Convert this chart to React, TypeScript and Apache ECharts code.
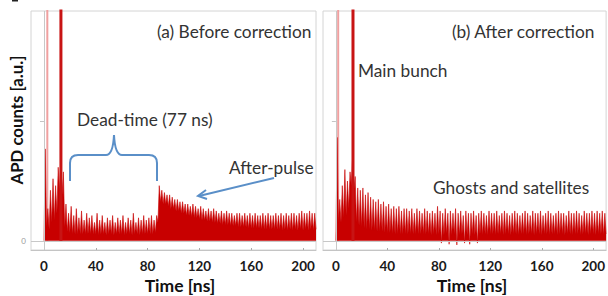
import React, { useEffect, useRef } from 'react';
import * as echarts from 'echarts';

// ---- data (ns / arbitrary units) ----
const BUNCH_SPACING = 2; // ns between successive samples (valley, peak alternating by half spacing)

// Panel (a) – before correction: peak heights at t = 1, 3, 5, ... 209 ns
const peaksA = [
  40, 14, 22, 27, 24, 32, 34, 30, 16, 12,
  15, 11, 14, 10, 13, 9, 12, 10, 11, 8,
  12, 9, 11, 8, 10, 9, 11, 8, 10, 9,
  11, 8, 10, 9, 12, 8, 10, 9, 11, 9,
  10, 11, 9, 11, 24, 22, 21, 20, 20, 19,
  18, 18, 17, 17, 16, 16, 15, 16, 15, 14,
  15, 14, 13, 14, 13, 14, 13, 12, 13, 12,
  13, 12, 12, 11, 12, 12, 11, 12, 11, 12,
  11, 12, 11, 11, 12, 11, 12, 11, 11, 12,
  11, 12, 11, 12, 11, 12, 12, 11, 12, 13,
  12, 12, 13, 12, 12,
];
// Panel (a) – valley (base) level at t = 0, 2, 4, ... 210 ns
const valleysA = [
  0, 6, 5, 8, 9, 12, 22, 20, 6, 4,
  3.5, 3, 3, 3, 3, 3, 3, 3, 3, 3,
  3, 2.5, 3, 3, 2.5, 3, 3, 2.5, 3, 3,
  3, 2.5, 3, 3, 2.5, 3, 3, 2.5, 3, 3,
  3, 3, 3, 3.5, 8, 17, 16, 16, 15, 14,
  14, 13, 13, 12, 12, 11, 11, 10.5, 10, 10,
  9.5, 9, 9, 8.5, 8.5, 8, 8, 7.5, 7.5, 7,
  7, 7, 6.5, 6.5, 6.5, 6, 6, 6, 6, 5.5,
  5.5, 5.5, 5.5, 5.5, 5, 5, 5, 5, 5, 5,
  5, 5, 4.5, 5, 4.5, 5, 4.5, 5, 4.5, 5,
  4.5, 5, 4.5, 5, 4.5, 5,
];

// Panel (b) – after correction
const peaksB = [
  45, 18, 24, 31, 26, 30, 36, 28, 23, 22,
  23, 20, 21, 19, 18, 17, 18, 16, 17, 15,
  16, 14, 15, 14, 15, 13, 14, 14, 13, 14,
  12, 14, 13, 12, 14, 13, 12, 13, 12, 15,
  13, 12, 14, 12, 13, 12, 14, 12, 13, 11,
  13, 12, 12, 13, 11, 12, 13, 12, 11, 13,
  12, 12, 13, 11, 12, 13, 12, 11, 12, 13,
  12, 11, 12, 13, 12, 11, 13, 12, 12, 13,
  11, 12, 13, 12, 11, 12, 13, 12, 12, 11,
  13, 12, 12, 13, 12, 11, 13, 12, 12, 13,
  12, 13, 12, 13, 12,
];
const valleysB = [
  0, 8, 8, 10, 11, 14, 24, 22, 8, 6.5,
  6, 5.5, 5, 5, 4.5, 4.5, 4, 4, 4, 3.5,
  3.5, 3.5, 3, 3, 3, 3, 3, 3, 3, 3,
  3, 3, 3, 3, 3, 3, 3, 2.5, 3, 2.5,
  3, -1, 2.5, 3, -1.5, 2.5, 3, -1.8, 2.5, 3,
  -1, 2.5, -1.5, 3, 2.5, -1, 3, 2.5, 3, 2.5,
  3, 3, 2.5, 3, 3, 2.5, 3, 3, 2.5, 3,
  3, 2.5, 3, 3, 2.5, 3, 3, 2.5, 3, 3,
  2.5, 3, 3, 2.5, 3, 3, 2.5, 3, 3, 2.5,
  3, 3, 2.5, 3, 3, 2.5, 3, 3, 2.5, 3,
  3, 2.5, 3, 3, 2.5, 3,
];

const mainBunchTimeA = 13.1;
const mainBunchTimeB = 13.3;
const ghostTimeA = 2.6;
const ghostTimeB = 1.8;
const offScaleHeight = 500;

const xTickValues = [0, 40, 80, 120, 160, 200];
const yTickValues = [0, 52];
const yLabelValues = [0];

function spikeSeries(valleys: number[], peaks: number[]) {
  const pts: number[][] = [];
  valleys.forEach((v, i) => {
    pts.push([i * BUNCH_SPACING, v]);
    if (i < peaks.length) pts.push([i * BUNCH_SPACING + BUNCH_SPACING / 2, peaks[i]]);
  });
  return pts;
}

const FONT = 'Lato';
const RED = '#c80000';
const BLUE = '#5a8fc8';
const TEXT = '#333333';

echarts.graphic.registerShape(
  'brace',
  echarts.graphic.extendPath(
    'M70,181 L70,163 Q70,155 78,155 L106,155 Q113,155 114,135 Q115,155 122,155 L149,155 Q157,155 157,163 L157,181',
    {}
  )
);

function makeXAxis(i: number) {
  return {
    type: 'value',
    gridIndex: i,
    min: -10,
    max: 210,
    axisLine: { show: true, onZero: false, lineStyle: { color: '#c4c4c4', width: 1 } },
    axisTick: { show: true, inside: true, length: 2, customValues: xTickValues, lineStyle: { color: '#aaaaaa' } },
    axisLabel: {
      customValues: xTickValues,
      margin: 9,
      color: '#1a1a1a',
      fontWeight: 'bold',
      fontSize: 13.5,
      fontFamily: FONT,
    },
    splitLine: { show: false },
  };
}

function makeYAxis(i: number) {
  return {
    type: 'value',
    gridIndex: i,
    min: -4,
    max: 100,
    axisLine: { show: false },
    axisTick: { show: true, length: 4, customValues: yTickValues, lineStyle: { color: '#c4c4c4' } },
    axisLabel: {
      show: i === 0,
      customValues: yLabelValues,
      margin: 5,
      fontSize: 8,
      color: '#999999',
      fontFamily: FONT,
    },
    splitLine: { show: false },
  };
}

function panelSeries(i: number, valleys: number[], peaks: number[], ghostT: number, mainT: number) {
  return [
    {
      type: 'line',
      xAxisIndex: i,
      yAxisIndex: i,
      z: 1,
      symbol: 'none',
      data: [
        [ghostT, 0],
        [ghostT, offScaleHeight],
      ],
      lineStyle: { color: '#f0a0a0', width: 2 },
      markLine: {
        silent: true,
        symbol: 'none',
        label: { show: false },
        lineStyle: { color: '#c8c8c8', width: 1, type: 'solid' },
        data: [{ xAxis: 0 }, { yAxis: 0 }],
      },
    },
    {
      type: 'line',
      xAxisIndex: i,
      yAxisIndex: i,
      z: 2,
      symbol: 'none',
      data: spikeSeries(valleys, peaks),
      lineStyle: { color: RED, width: 0.6 },
      areaStyle: { color: RED, opacity: 1 },
    },
    {
      type: 'line',
      xAxisIndex: i,
      yAxisIndex: i,
      z: 3,
      symbol: 'none',
      data: [
        [mainT, 0],
        [mainT, offScaleHeight],
      ],
      lineStyle: { color: '#c81414', width: 3 },
    },
  ];
}

function txt(text: string, x: number, y: number, extra: any = {}) {
  return {
    type: 'text',
    x,
    y,
    style: {
      text,
      fill: TEXT,
      fontSize: 17.3,
      fontFamily: FONT,
      align: 'left',
      verticalAlign: 'middle',
      ...extra,
    },
  };
}

export default function App() {
  const ref = useRef<HTMLDivElement>(null);
  useEffect(() => {
    if (!ref.current) return;
    const chart = echarts.init(ref.current, undefined, { renderer: 'svg' });
    chart.setOption({
      animation: false,
      backgroundColor: '#ffffff',
      textStyle: { fontFamily: FONT },
      grid: [
        { left: 31, top: 11, width: 285, height: 239, show: true, borderColor: '#d4d4d4', borderWidth: 1, backgroundColor: 'transparent' },
        { left: 323, top: 11, width: 287, height: 239, show: true, borderColor: '#d4d4d4', borderWidth: 1, backgroundColor: 'transparent' },
      ],
      xAxis: [makeXAxis(0), makeXAxis(1)],
      yAxis: [makeYAxis(0), makeYAxis(1)],
      series: [
        ...panelSeries(0, valleysA, peaksA, ghostTimeA, mainBunchTimeA),
        ...panelSeries(1, valleysB, peaksB, ghostTimeB, mainBunchTimeB),
      ],
      graphic: [
        { type: 'rect', shape: { x: 12, y: 0, width: 6, height: 1.5 }, style: { fill: '#222' } },
        {
          type: 'text',
          x: 16,
          y: 120,
          rotation: Math.PI / 2,
          style: {
            text: 'APD counts [a.u.]',
            fill: '#111',
            fontSize: 16.8,
            fontWeight: 'bold',
            fontFamily: FONT,
            align: 'center',
            verticalAlign: 'middle',
          },
        },
        txt('Time [ns]', 180, 285, { align: 'center', fontWeight: 'bold', fill: '#111', fontSize: 17.5 }),
        txt('Time [ns]', 472, 285, { align: 'center', fontWeight: 'bold', fill: '#111', fontSize: 17.5 }),
        txt('(a) Before correction', 157, 31),
        txt('(b) After correction', 452, 31),
        txt('Main bunch', 358, 70),
        txt('Dead-time (77 ns)', 77, 119),
        txt('After-pulse', 229, 167),
        txt('Ghosts and satellites', 433, 187),
        { type: 'brace', x: 0, y: 0, style: { stroke: BLUE, lineWidth: 2, fill: 'none' } },
        { type: 'line', shape: { x1: 274, y1: 178, x2: 199, y2: 196 }, style: { stroke: BLUE, lineWidth: 2 } },
        {
          type: 'polyline',
          shape: { points: [[206, 190], [198, 196], [207, 199]] },
          style: { stroke: BLUE, lineWidth: 2, fill: 'none' },
        },
      ],
    });
    return () => chart.dispose();
  }, []);
  return (
    <div
      ref={ref}
      style={{ position: 'absolute', left: 0, top: 0, width: 608, height: 296, overflow: 'hidden' }}
    />
  );
}
